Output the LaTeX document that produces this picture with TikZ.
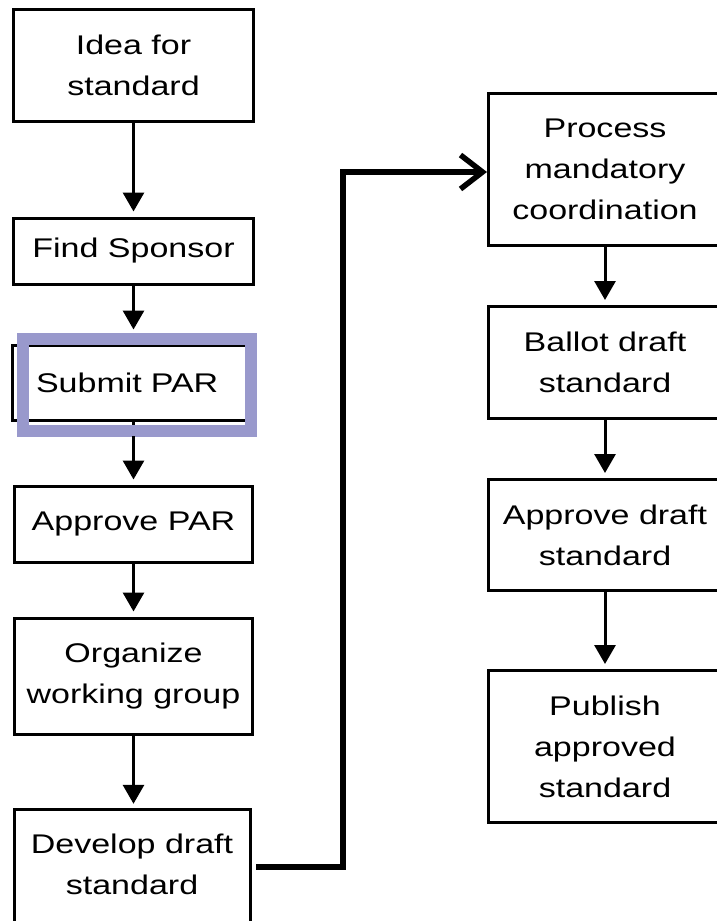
\documentclass[tikz,border=0pt]{standalone}
\usepackage{fontspec}
\setmainfont{Liberation Sans}[FakeStretch=1.26]
\usetikzlibrary{arrows.meta,calc}
\definecolor{lav}{RGB}{153,153,204}
\begin{document}
\begin{tikzpicture}[x=1pt,y=-1pt,
  box/.style={draw, line width=3pt, align=center, inner sep=0pt,
    font=\fontsize{27}{41}\selectfont},
  plain/.style={align=center, inner sep=0pt, font=\fontsize{27}{41}\selectfont},
  flow/.style={line width=3pt, -{Triangle[width=21pt,length=19pt]}, shorten >=5pt},
  big/.style={line width=6.5pt, -{Straight Barb[length=22pt,width=34pt,line width=5.5pt]}}]
\useasboundingbox (0,0) rectangle (717,921);
% left column
\node[box, minimum width=240pt, minimum height=112pt] (idea) at (133.5,65.5) {Idea for\\standard};
\node[box, minimum width=240pt, minimum height=66pt] (find) at (133.5,251) {Find Sponsor};
\node[box, minimum width=235pt, minimum height=75pt, text width=187pt, align=left, inner xsep=24pt] (submit) at (129.5,382.5) {Submit PAR};
\node[box, minimum width=238pt, minimum height=76pt] (apar) at (133.5,524) {Approve PAR};
\node[box, minimum width=238pt, minimum height=116pt] (org) at (133.5,676) {Organize\\working group};
\node[plain, minimum width=236pt, minimum height=110pt] (dev) at (132,864) {Develop draft\\standard};
\draw[line width=3pt] (14.5,960) -- (14.5,809.5) -- (250,809.5) -- (250,960);
% right column
\node[box, minimum width=233pt, minimum height=152pt] (proc) at (605,169.5) {Process\\mandatory\\coordination};
\node[box, minimum width=233pt, minimum height=112pt] (ballot) at (605,362.5) {Ballot draft\\standard};
\node[box, minimum width=233pt, minimum height=111pt] (adraft) at (605,535) {Approve draft\\standard};
\node[box, minimum width=233pt, minimum height=152pt] (pub) at (605,746.5) {Publish\\approved\\standard};
% connectors
\draw[flow] (idea.south) -- (find.north);
\draw[flow, shorten >=14pt] (find.south) -- (submit.north -| find.south);
\draw[line width=3pt] (submit.south -| apar.north) -- ++(0,6);
\draw[lav, line width=12pt] (23,339) rectangle (251,430.5);
\draw[flow] (apar.north |- 436,436) -- (apar.north);
\draw[flow] (apar.south) -- (org.north);
\draw[flow] (org.south) -- (org.south |- dev.north);
\draw[flow] (proc.south) -- (ballot.north);
\draw[flow] (ballot.south) -- (adraft.north);
\draw[flow] (adraft.south) -- (pub.north);
\coordinate (bend) at (343,172);
\draw[big] ([xshift=6pt,yshift=-3pt]dev.east) -| (bend) -- (proc.west |- bend);
\end{tikzpicture}
\end{document}
